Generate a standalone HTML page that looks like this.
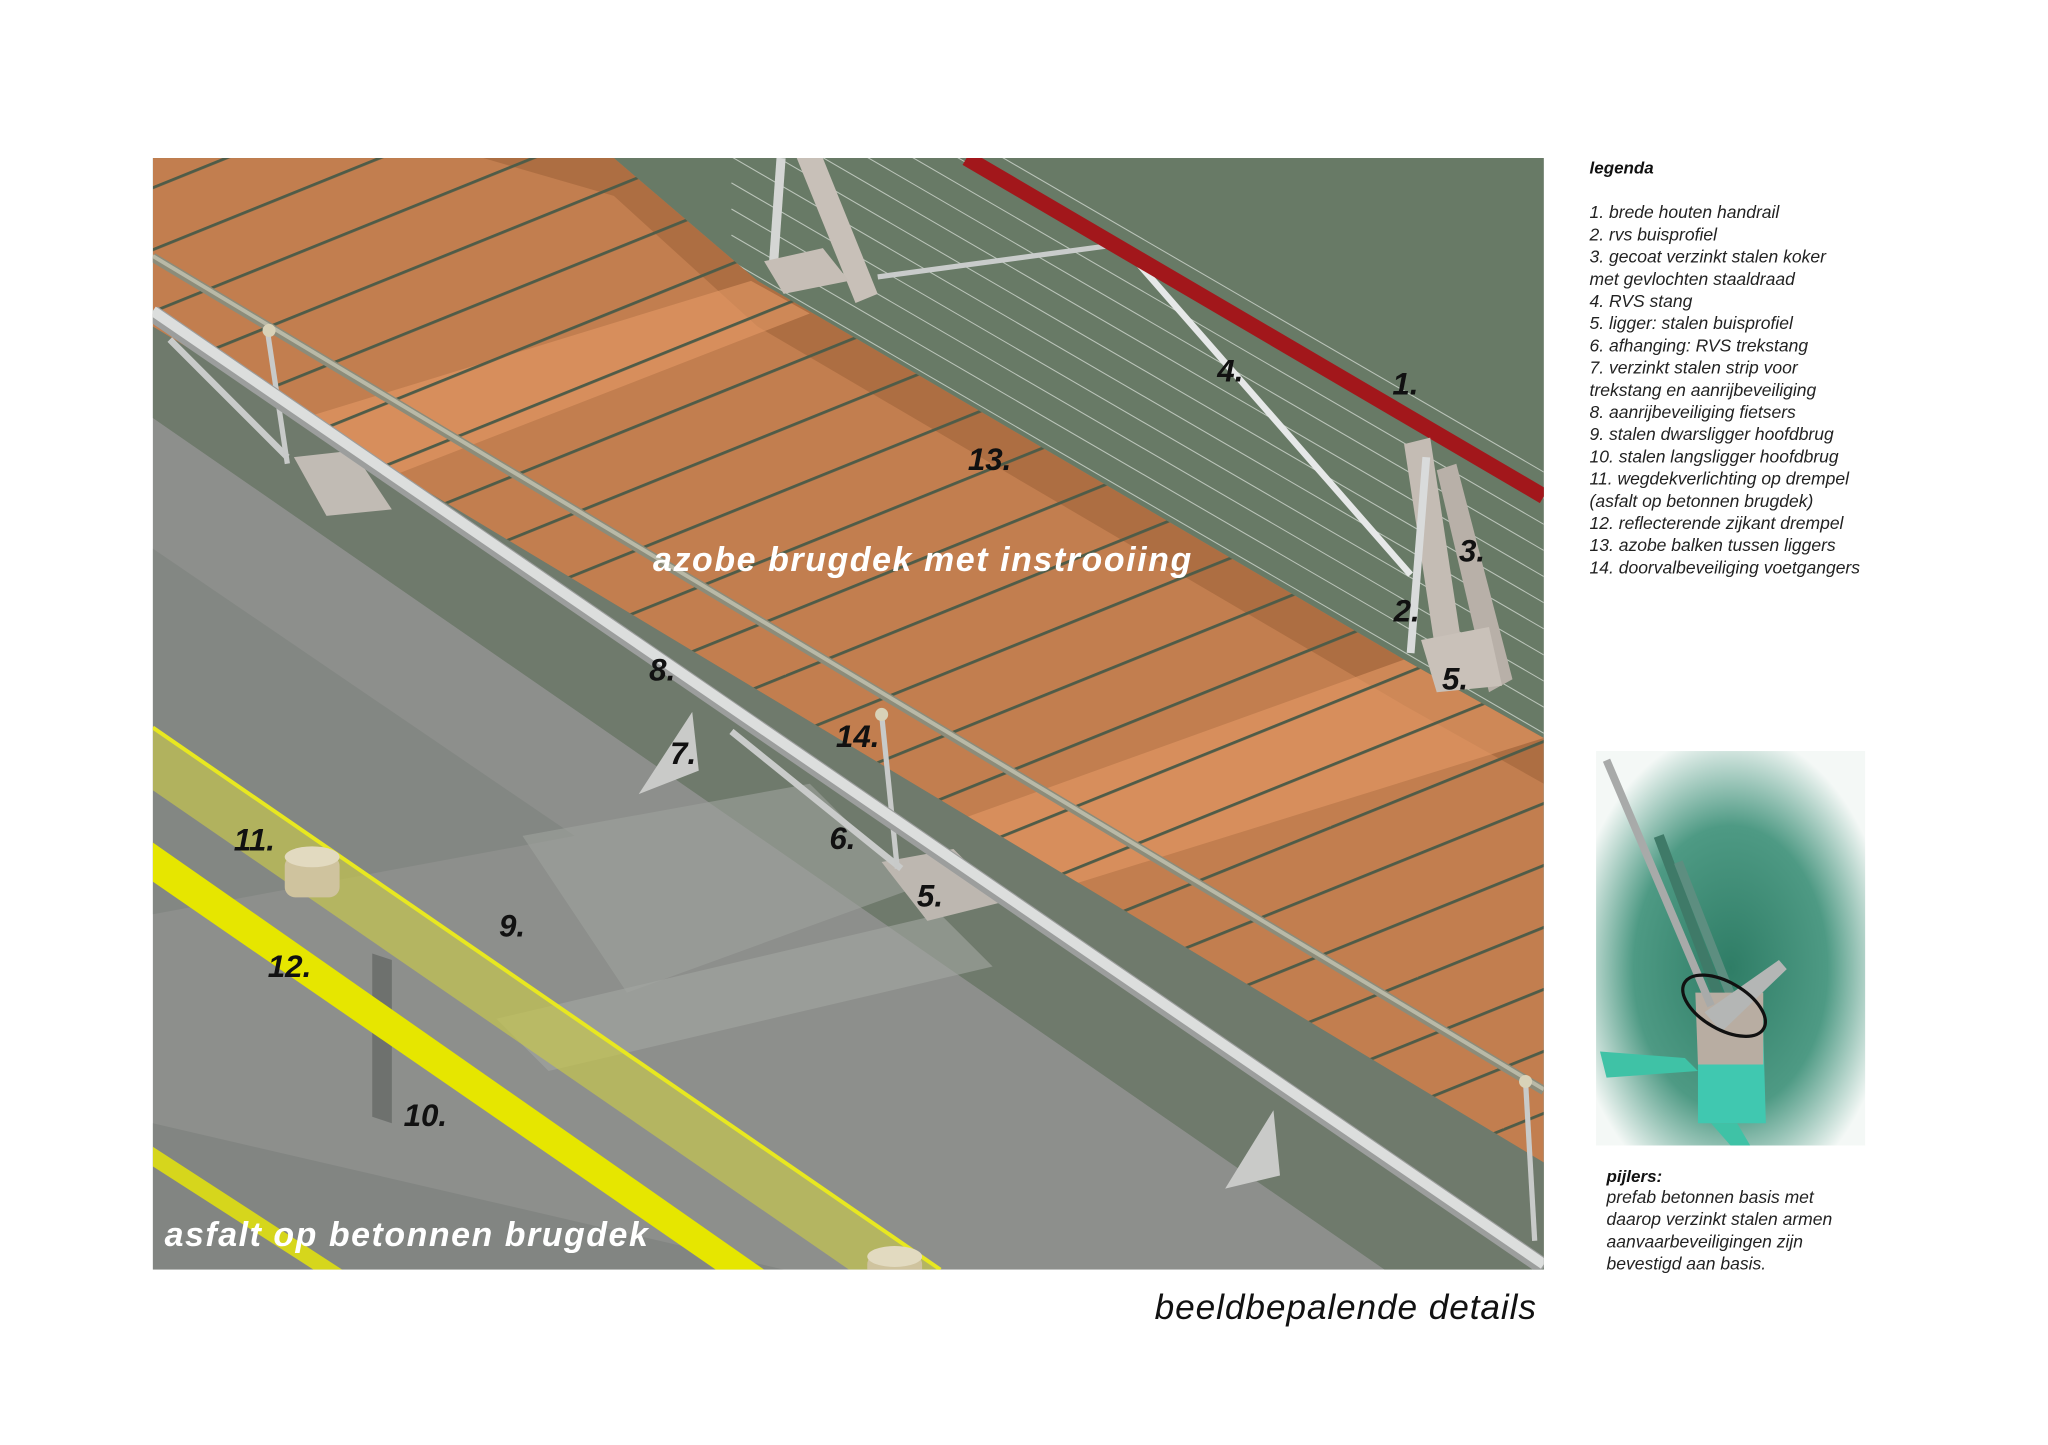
<!DOCTYPE html>
<html><head><meta charset="utf-8"><style>
html,body{margin:0;padding:0;background:#fff;width:2048px;height:1445px;overflow:hidden;position:relative}
svg{display:block;position:absolute;left:0;top:0}
text{font-family:"Liberation Sans",Arial,sans-serif}
</style></head><body>
<svg width="2048" height="1445" viewBox="0 0 1568 1106.3" xmlns="http://www.w3.org/2000/svg">
<defs>
<clipPath id="main"><rect x="117" y="121" width="1065" height="851"/></clipPath>
<clipPath id="deckc"><polygon points="117,121 470,121 580,215 1075,505 1182,565 1182,890 117,250"/></clipPath>
<clipPath id="greenc"><polygon points="470,121 1182,121 1182,565 1075,505 580,215"/></clipPath>
<pattern id="planks" width="200" height="44" patternUnits="userSpaceOnUse" patternTransform="rotate(-22)">
<rect width="200" height="44" fill="none"/><rect y="0" width="200" height="2.2" fill="#4f5c48"/>
</pattern>
<radialGradient id="pg" cx="0.5" cy="0.55" r="0.6">
<stop offset="0" stop-color="#2f7d66"/><stop offset="0.6" stop-color="#4e9a84"/><stop offset="1" stop-color="#f4f8f6"/>
</radialGradient>
</defs>
<rect width="1568" height="1106.3" fill="#fff"/>
<g clip-path="url(#main)">
<rect x="117" y="121" width="1065" height="851" fill="#868986"/>
<polygon points="117,121 1182,121 1182,972 1060,972 117,320" fill="#687a66"/>
<polygon points="117,250 1182,890 1182,972 1060,972 117,320" fill="#6f7a6c"/>
<polygon points="117,320 1060,972 117,972" fill="#8d8f8c"/>
<polygon points="117,420 440,640 117,700" fill="#7f837f" opacity="0.7"/>
<polygon points="400,640 620,600 700,680 480,760" fill="#9ea19d" opacity="0.6"/>
<polygon points="380,780 720,700 760,740 420,820" fill="#a3a6a2" opacity="0.6"/>
<polygon points="285,730 300,735 300,860 285,855" fill="#6e716e"/>
<polygon points="117,860 600,972 117,972" fill="#7b7e7b" opacity="0.6"/>
<g clip-path="url(#deckc)">
<rect x="117" y="121" width="1065" height="851" fill="#c27e4f"/>
<polygon points="370,121 470,121 580,215 1075,505 1182,565 1182,600 1075,540 580,250 470,150" fill="#9c6039" opacity="0.55"/>
<polygon points="200,330 575,215 620,240 260,380" fill="#e59a66" opacity="0.6"/>
<polygon points="700,640 1075,505 1182,565 780,690" fill="#e59a66" opacity="0.6"/>
<rect x="0" y="0" width="1600" height="1200" fill="url(#planks)"/>
</g>
<g clip-path="url(#greenc)" stroke="#dfe5de" stroke-width="0.8" opacity="0.7">
<line x1="560" y1="100" x2="1300" y2="530"/><line x1="560" y1="120" x2="1300" y2="550"/><line x1="560" y1="140" x2="1300" y2="570"/>
<line x1="560" y1="160" x2="1300" y2="590"/><line x1="560" y1="180" x2="1300" y2="610"/><line x1="560" y1="200" x2="1300" y2="630"/>
<line x1="560" y1="220" x2="1300" y2="650"/><line x1="560" y1="80" x2="1300" y2="510"/><line x1="560" y1="60" x2="1300" y2="490"/>
<line x1="560" y1="40" x2="1300" y2="470"/><line x1="560" y1="20" x2="1300" y2="450"/><line x1="560" y1="0" x2="1300" y2="430"/>
</g>
<polygon points="610,121 630,121 672,225 655,232" fill="#c8c0b8"/>
<line x1="598" y1="121" x2="592" y2="205" stroke="#d4d6d4" stroke-width="7"/>
<polygon points="585,200 630,190 650,215 600,225" fill="#c6beb6"/>
<line x1="672" y1="212" x2="850" y2="188" stroke="#c9cccb" stroke-width="4"/>
<line x1="870" y1="200" x2="1080" y2="440" stroke="#e6e8e8" stroke-width="5"/>
<line x1="740" y1="121" x2="1182" y2="380" stroke="#a2171b" stroke-width="12"/>
<polygon points="1075,340 1095,335 1120,500 1100,505" fill="#c4bcb4"/>
<polygon points="1100,360 1115,355 1158,520 1140,530" fill="#b8b0a8"/>
<polygon points="1088,490 1140,480 1150,525 1100,530" fill="#c9c1b9"/>
<line x1="1092" y1="350" x2="1080" y2="500" stroke="#d9dbdb" stroke-width="6"/>
<polygon points="225,350 270,345 300,390 250,395" fill="#c1bbb4"/>
<polygon points="675,660 730,650 770,690 710,705" fill="#bdb7b0"/>
<polygon points="489,608 530,545 535,590" fill="#c9cac8"/>
<polygon points="938,910 975,850 980,900" fill="#c9cac8"/>
<line x1="560" y1="560" x2="690" y2="665" stroke="#c9cbca" stroke-width="5"/>
<line x1="130" y1="260" x2="220" y2="350" stroke="#c9cbca" stroke-width="5"/>
<polygon points="117,557 720,972 650,972 117,605" fill="#c9c94a" opacity="0.65"/>
<line x1="117" y1="557" x2="720" y2="972" stroke="#e8e820" stroke-width="3"/>
<polygon points="117,645 585,972 548,972 117,675" fill="#e6e600"/>
<polygon points="117,878 262,972 240,972 117,893" fill="#d6d61c"/>
<line x1="205" y1="255" x2="220" y2="355" stroke="#c8cac9" stroke-width="4"/>
<line x1="675" y1="547" x2="687" y2="665" stroke="#c8cac9" stroke-width="4"/>
<line x1="1168" y1="828" x2="1175" y2="950" stroke="#c8cac9" stroke-width="4"/>
<line x1="117" y1="197" x2="1182" y2="835" stroke="#8c8c7a" stroke-width="7"/>
<line x1="117" y1="196" x2="1182" y2="834" stroke="#b9b9a7" stroke-width="3"/>
<line x1="117" y1="240" x2="1182" y2="970" stroke="#9c9e9d" stroke-width="13"/>
<line x1="117" y1="238" x2="1182" y2="968" stroke="#dcdedd" stroke-width="8"/>
<circle cx="206" cy="253" r="5" fill="#d8d2b8"/><circle cx="675" cy="547" r="5" fill="#d8d2b8"/><circle cx="1168" cy="828" r="5" fill="#d8d2b8"/>
<rect x="218" y="655" width="42" height="32" rx="8" fill="#cfc39e"/>
<ellipse cx="239" cy="656" rx="21" ry="8" fill="#e2dac0"/>
<rect x="664" y="960" width="42" height="20" rx="8" fill="#cfc39e"/>
<ellipse cx="685" cy="962" rx="21" ry="8" fill="#e2dac0"/>
</g>
<g font-weight="bold" font-style="italic" font-size="24" fill="#111">
<text x="1066" y="302">1.</text><text x="1067" y="476">2.</text><text x="1117" y="430">3.</text>
<text x="932" y="292">4.</text><text x="1104" y="528">5.</text><text x="741" y="360">13.</text>
<text x="497" y="521">8.</text><text x="640" y="572">14.</text><text x="513" y="585">7.</text>
<text x="635" y="650">6.</text><text x="702" y="694">5.</text><text x="179" y="651">11.</text>
<text x="205" y="748">12.</text><text x="382" y="717">9.</text><text x="309" y="862">10.</text>
</g>
<g font-weight="bold" font-style="italic" font-size="26" fill="#fff">
<text x="706" y="437" text-anchor="middle" textLength="412">azobe brugdek met instrooiing</text>
<text x="126" y="954" textLength="370">asfalt op betonnen brugdek</text>
</g>
<text x="1176" y="1010" text-anchor="end" font-style="italic" font-size="27" fill="#111" textLength="292">beeldbepalende details</text>
<text x="1217" y="133" font-weight="bold" font-style="italic" font-size="13" fill="#111">legenda</text>
<g font-style="italic" font-size="13.4" fill="#222">
<text x="1217" y="167">1. brede houten handrail</text>
<text x="1217" y="184">2. rvs buisprofiel</text>
<text x="1217" y="201">3. gecoat verzinkt stalen koker</text>
<text x="1217" y="218">met gevlochten staaldraad</text>
<text x="1217" y="235">4. RVS stang</text>
<text x="1217" y="252">5. ligger: stalen buisprofiel</text>
<text x="1217" y="269">6. afhanging: RVS trekstang</text>
<text x="1217" y="286">7. verzinkt stalen strip voor</text>
<text x="1217" y="303">trekstang en aanrijbeveiliging</text>
<text x="1217" y="320">8. aanrijbeveiliging fietsers</text>
<text x="1217" y="337">9. stalen dwarsligger hoofdbrug</text>
<text x="1217" y="354">10. stalen langsligger hoofdbrug</text>
<text x="1217" y="371">11. wegdekverlichting op drempel</text>
<text x="1217" y="388">(asfalt op betonnen brugdek)</text>
<text x="1217" y="405">12. reflecterende zijkant drempel</text>
<text x="1217" y="422">13. azobe balken tussen liggers</text>
<text x="1217" y="439">14. doorvalbeveiliging voetgangers</text>
</g>
<rect x="1222" y="575" width="206" height="302" fill="url(#pg)"/>
<line x1="1270" y1="640" x2="1330" y2="800" stroke="#3f7a68" stroke-width="8"/>
<line x1="1285" y1="660" x2="1340" y2="800" stroke="#5d8e80" stroke-width="7"/>
<polygon points="1225,805 1290,810 1300,820 1230,825" fill="#3fc2a6"/>
<polygon points="1300,790 1350,790 1352,860 1300,860" fill="#40c8b0"/>
<polygon points="1298,760 1350,760 1350,815 1300,815" fill="#b8ada2"/>
<polygon points="1310,860 1330,860 1340,877 1325,877" fill="#3fc2a6"/>
<line x1="1230" y1="582" x2="1310" y2="770" stroke="#a8aaa9" stroke-width="6"/>
<polygon points="1305,775 1362,735 1368,742 1318,790" fill="#b4b6b5"/>
<ellipse cx="1320" cy="770" rx="35" ry="18" transform="rotate(30 1320 770)" fill="none" stroke="#111" stroke-width="2.5"/>
<text x="1230" y="905" font-weight="bold" font-style="italic" font-size="13" fill="#111">pijlers:</text>
<g font-style="italic" font-size="13.4" fill="#222">
<text x="1230" y="921">prefab betonnen basis met</text>
<text x="1230" y="938">daarop verzinkt stalen armen</text>
<text x="1230" y="955">aanvaarbeveiligingen zijn</text>
<text x="1230" y="972">bevestigd aan basis.</text>
</g>
</svg>
</body></html>
